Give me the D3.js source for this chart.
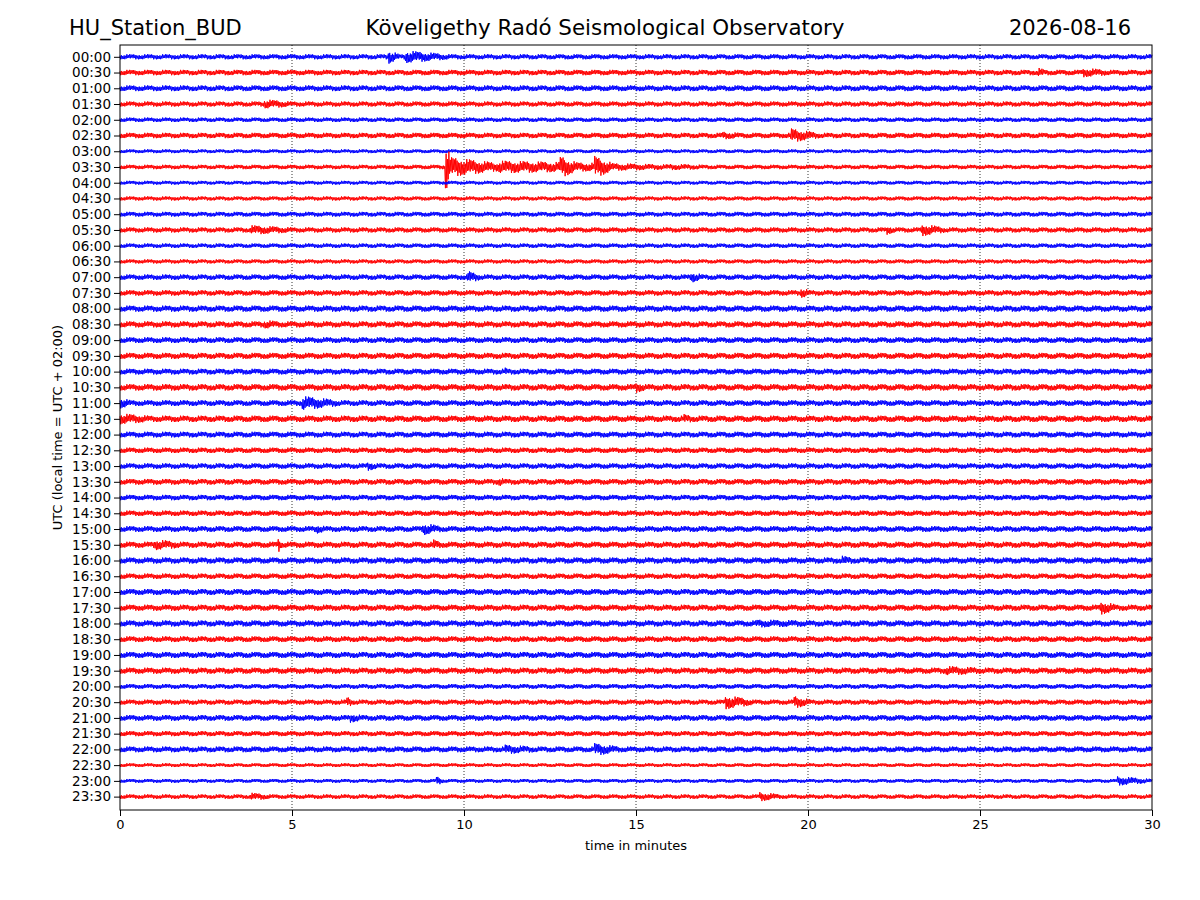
<!DOCTYPE html>
<html lang="en">
<head>
<meta charset="utf-8" />
<script src="https://d3js.org/d3.v7.min.js"></script>
<style>body{margin:0;background:#fff}</style>
</head>
<body>
<script>
// one trace per half hour, 00:00 .. 23:30
const rows = d3.range(48).map(i => String(Math.floor(i / 2)).padStart(2, "0") + ":" + (i % 2 ? "30" : "00"));
const rowColors = ["#0000ff", "#ff0000"];
// background noise half-amplitude per trace (in trace spacings)
const baseAmp = [0.16,0.17,0.18,0.16,0.14,0.17,0.12,0.14,0.12,0.13,0.15,0.16,0.14,0.13,0.17,0.17,
  0.19,0.19,0.18,0.19,0.18,0.2,0.18,0.2,0.18,0.17,0.17,0.18,0.17,0.17,0.18,0.19,
  0.19,0.17,0.19,0.19,0.19,0.18,0.19,0.19,0.15,0.16,0.18,0.16,0.18,0.12,0.12,0.14];
// visible events: [row, start min, end min, peak amp]
const events = [
  [0, 7.8, 8.1, 0.45], [0, 8.3, 9.6, 0.4], [1, 28, 29, 0.3], [1, 26.7, 27, 0.3],
  [3, 4.2, 5.2, 0.3], [5, 17.5, 18.5, 0.25], [5, 19.5, 20.3, 0.45],
  [7, 9.45, 9.6, 1.75], [7, 9.5, 11, 0.65], [7, 11, 16, 0.4], [7, 12.8, 13.3, 0.7],
  [7, 13.8, 14.3, 0.7], [7, 16, 18, 0.2], [7, 22, 26, 0.12],
  [11, 3.8, 5.4, 0.3], [11, 23.3, 24, 0.4], [11, 22.3, 22.6, 0.3],
  [14, 10.1, 10.5, 0.4], [14, 16.6, 17, 0.35], [15, 19.8, 20.1, 0.35],
  [17, 4.2, 5, 0.28], [20, 11.2, 11.4, 0.25], [21, 15, 15.4, 0.35],
  [22, 0, 0.4, 0.35], [22, 5.3, 6.4, 0.45], [23, 0, 1.2, 0.35], [23, 16.4, 16.8, 0.3],
  [26, 7.2, 7.6, 0.3], [27, 11, 11.3, 0.3], [30, 8.8, 9.4, 0.4], [30, 5.7, 6.1, 0.3],
  [31, 1, 2, 0.35], [31, 4.6, 4.7, 0.5], [31, 9.1, 9.4, 0.35], [32, 21, 21.5, 0.3],
  [35, 28.5, 29, 0.45], [36, 18.5, 22.5, 0.25], [39, 24, 25.8, 0.3],
  [41, 6.6, 6.8, 0.35], [41, 17.6, 18.4, 0.45], [41, 19.6, 20.1, 0.4],
  [42, 6.7, 7.2, 0.3], [44, 11.2, 12.5, 0.3], [44, 13.8, 14.6, 0.4],
  [46, 29, 30, 0.3], [46, 9.2, 9.4, 0.3], [47, 3.8, 4.6, 0.25], [47, 18.6, 19.3, 0.3]
];
const wiggle = [0.45, 1, 0.6, 0.9, 0.3, 0.8, 0.55, 0.95, 0.4, 0.7, 1, 0.5, 0.65];

const W = 1200, H = 900, m = {l: 120, r: 48, t: 45, b: 90};
const svg = d3.select("body").append("svg").attr("width", W).attr("height", H)
  .style("font-family", "DejaVu Sans, sans-serif");

const x = d3.scaleLinear().domain([0, 30]).range([m.l, W - m.r]);
const y = d3.scaleLinear().domain([-0.75, 47.85]).range([m.t, H - m.b]);
const unit = y(1) - y(0);

// gridlines
svg.append("g").selectAll("line").data([5, 10, 15, 20, 25]).join("line")
  .attr("x1", d => x(d)).attr("x2", d => x(d)).attr("y1", m.t).attr("y2", H - m.b)
  .attr("stroke", "#000").attr("stroke-width", 0.8).attr("stroke-dasharray", "1,2");

function envelope(r, t) {
  let a = baseAmp[r];
  events.filter(e => e[0] === r).forEach(([, t0, t1, amp]) => {
    if (t >= t0 && t <= t1) {
      const f = 1 - (t - t0) / (t1 - t0) * 0.6;
      a = Math.max(a, amp * f);
    }
  });
  return a;
}

const step = 0.02;
const line = d3.line().x(d => x(d[0])).y(d => d[1]);
rows.forEach((lab, r) => {
  const pts = d3.range(0, 30 + step / 2, step).map((t, i) => {
    const s = (i % 2 ? 1 : -1) * wiggle[i % wiggle.length];
    return [t, y(r) + s * envelope(r, t) * unit];
  });
  svg.append("path").attr("d", line(pts)).attr("fill", "none")
    .attr("stroke", rowColors[r % 2]).attr("stroke-width", 1);
});

// frame and axes
svg.append("rect").attr("x", m.l).attr("y", m.t).attr("width", W - m.l - m.r)
  .attr("height", H - m.t - m.b).attr("fill", "none").attr("stroke", "#000");
svg.append("g").attr("transform", `translate(0,${H - m.b})`)
  .call(d3.axisBottom(x).tickValues([0, 5, 10, 15, 20, 25, 30]).tickSizeOuter(0).tickPadding(4))
  .call(g => g.select(".domain").remove())
  .selectAll("text").attr("font-size", 13).attr("font-family", "DejaVu Sans");
svg.append("g").attr("transform", `translate(${m.l},0)`)
  .call(d3.axisLeft(y).tickValues(d3.range(48)).tickFormat(i => rows[i]).tickSizeOuter(0).tickPadding(3))
  .call(g => g.select(".domain").remove())
  .selectAll("text").attr("font-size", 13.5).attr("font-family", "DejaVu Sans");

svg.append("text").attr("x", x(15)).attr("y", 850).attr("text-anchor", "middle")
  .attr("font-size", 13).text("time in minutes");
svg.append("text").attr("transform", `translate(62,${(m.t + H - m.b) / 2}) rotate(-90)`)
  .attr("text-anchor", "middle").attr("font-size", 13).text("UTC (local time = UTC + 02:00)");

svg.append("text").attr("x", 69).attr("y", 35).attr("font-size", 21).text("HU_Station_BUD");
svg.append("text").attr("x", 605).attr("y", 35).attr("text-anchor", "middle").attr("font-size", 21.4)
  .text("Köveligethy Radó Seismological Observatory");
svg.append("text").attr("x", 1131).attr("y", 35).attr("text-anchor", "end").attr("font-size", 21).text("2026-08-16");
</script>
</body>
</html>
